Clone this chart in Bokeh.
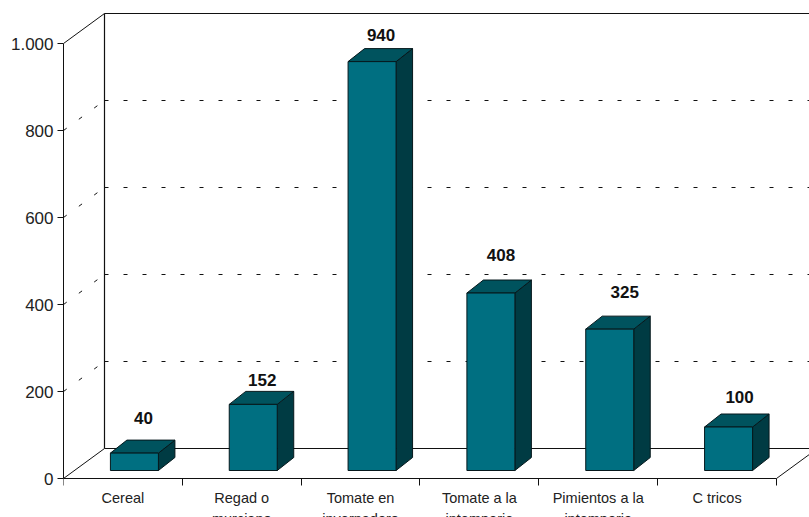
from bokeh.plotting import figure
from bokeh.models import Range1d, FixedTicker, LinearAxis, ColumnDataSource
from bokeh.core.properties import value
from bokeh.embed import file_html
from bokeh.resources import INLINE

categories_line1 = ["Cereal", "Regad o", "Tomate en", "Tomate a la", "Pimientos a la", "C tricos"]
categories_line2 = ["", "murciano", "invernadero", "intemperie", "intemperie", ""]
values = [40, 152, 940, 408, 325, 100]
y_ticks = [0, 200, 400, 600, 800, 1000]
y_tick_labels = ["0", "200", "400", "600", "800", "1.000"]

FONT = "Liberation Sans"
W, H = 809, 517
LEFT = 63            # canvas px of the front axis
ZERO = 478           # canvas px of y = 0
SLOT = 118.83        # px per category
PXV = 0.435          # px per value unit
ux, uy = 1 / SLOT, 1 / PXV   # data units per pixel

n = len(values)
x0, x1 = 0, (W - LEFT) * ux
y1, y0 = ZERO * uy, (ZERO - H) * uy
wx, wy = 41 * ux, 30 * uy    # wall depth

p = figure(width=W, height=H, output_backend="svg", toolbar_location=None,
           x_range=Range1d(x0, x1), y_range=Range1d(y0, y1),
           min_border_left=LEFT, min_border_right=0, min_border_top=0, min_border_bottom=0,
           x_axis_location=None, y_axis_location=None, outline_line_color=None)
p.grid.visible = False
p.background_fill_color = "white"

# dashed gridlines: diagonal on the side wall + horizontal on the back wall
LINE = "#111111"
for t in y_ticks[1:-1]:
    p.line([0, wx], [t, t + wy], line_color=LINE, line_width=1, line_dash="4 15")
    p.line([wx, x1 + wx], [t + wy, t + wy], line_color=LINE, line_width=1, line_dash="4 15")
for t in (0, 1000):
    p.line([wx, x1 + wx], [t + wy, t + wy], line_color=LINE, line_width=1)
p.line([wx, wx], [wy, 1000 + wy], line_color=LINE, line_width=1.2)
p.line([0, wx], [1000, 1000 + wy], line_color=LINE, line_width=1)
p.line([0, wx], [0, wy], line_color=LINE, line_width=1)
p.line([n, n + wx], [0, wy], line_color=LINE, line_width=1)

# 3-D bars
bw = 48 * ux
bdx, bdy = 11.5 * ux, 8 * uy     # base lift off the floor front edge
dx, dy = 16.5 * ux, 13 * uy      # bar depth

front_x, front_y, top_x, top_y, side_x, side_y = [], [], [], [], [], []
for i, v in enumerate(values):
    l = i + 0.5 - bw / 2 + bdx
    r = l + bw
    b = bdy
    t = bdy + v
    front_x.append([l, r, r, l]); front_y.append([b, b, t, t])
    top_x.append([l, r, r + dx, l + dx]); top_y.append([t, t, t + dy, t + dy])
    side_x.append([r, r + dx, r + dx, r]); side_y.append([b, b + dy, t + dy, t])

OUT = "#06181c"
p.patches(side_x, side_y, fill_color="#003b43", line_color=OUT, line_width=1)
p.patches(top_x, top_y, fill_color="#00535e", line_color=OUT, line_width=1)
p.patches(front_x, front_y, fill_color="#006f81", line_color=OUT, line_width=1)

# value labels (hand-placed in the source chart, hence per-label nudges in px)
nudge_x = [9, 9, 9, 10, 15, 11]
nudge_y = [-35, -24, -27, -38, -37, -30]
src = ColumnDataSource(dict(
    x=[i + 0.5 + bdx for i in range(n)],
    y=[bdy + v for v in values],
    t=[str(v) for v in values],
    xo=nudge_x, yo=nudge_y))
p.text("x", "y", text="t", source=src, x_offset="xo", y_offset="yo",
       text_font=value(FONT), text_font_style="bold", text_font_size="17px",
       text_align="center", text_baseline="middle", text_color="#111111")

# axes
yax = LinearAxis(ticker=FixedTicker(ticks=y_ticks), bounds=(0, 1000),
                 major_label_overrides=dict(zip(y_ticks, y_tick_labels)),
                 major_label_text_font=FONT, major_label_text_font_size="17px",
                 major_label_text_color="#222222", major_label_standoff=4,
                 major_tick_in=0, major_tick_out=6, minor_tick_line_color=None,
                 axis_line_color=LINE, major_tick_line_color=LINE)
p.add_layout(yax, "left")

centres = [i + 0.5 for i in range(n)]
bounds = list(range(n + 1))
xax1 = LinearAxis(ticker=FixedTicker(ticks=centres, minor_ticks=bounds), bounds=(0, n),
                  major_label_overrides=dict(zip(centres, categories_line1)),
                  major_label_text_font=FONT, major_label_text_font_size="14.5px",
                  major_label_text_color="#222222", major_label_standoff=4,
                  major_tick_in=0, major_tick_out=0, minor_tick_in=0, minor_tick_out=7,
                  axis_line_color=LINE, minor_tick_line_color=LINE, fixed_location=0)
xax2 = LinearAxis(ticker=FixedTicker(ticks=centres), bounds=(0, n),
                  major_label_overrides=dict(zip(centres, categories_line2)),
                  major_label_text_font=FONT, major_label_text_font_size="14.5px",
                  major_label_text_color="#222222", major_label_standoff=32,
                  major_tick_in=0, major_tick_out=0, minor_tick_line_color=None,
                  axis_line_color=None, fixed_location=0)
p.add_layout(xax2, "below")
p.add_layout(xax1, "below")

open("out.html", "w").write(file_html(p, INLINE))
